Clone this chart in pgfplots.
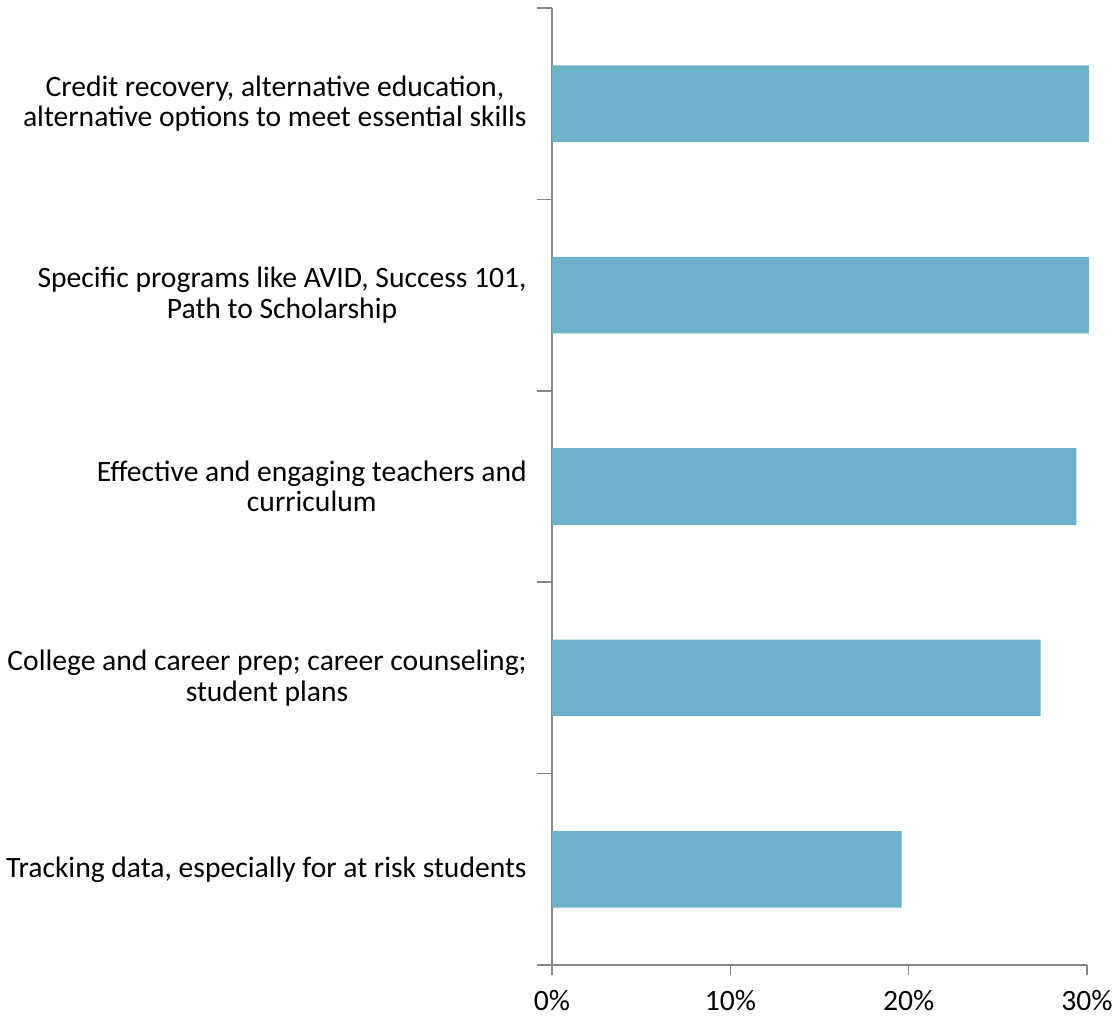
\documentclass[border=0pt]{standalone}
\usepackage{fontspec}
\setmainfont{Carlito}
\usepackage{pgfplots}
\pgfplotsset{compat=1.18}
\usetikzlibrary{calc}
\definecolor{barblue}{HTML}{6BB1C9}
\definecolor{axisgray}{HTML}{868686}

\begin{document}
\begin{tikzpicture}[x=1pt,y=1pt]
  \begin{axis}[
    name=ax,
    at={(0,0)}, anchor=south west,
    scale only axis,
    width=267.5pt, height=478.5pt,
    xbar, bar width=0.4,
    xmin=0, xmax=30,
    ymin=-0.5, ymax=4.5,
    xtick={0,10,20,30},
    xticklabel={\pgfmathprintnumber{\tick}\%},
    ytick={0,1,2,3,4},
    yticklabels={
      {Tracking data, especially for at risk students},
      {College and career prep; career counseling;\\student plans},
      {Effective and engaging teachers and\\curriculum},
      {Specific programs like AVID, Success 101,\\Path to Scholarship},
      {Credit recovery, alternative education,\\alternative options to meet essential skills}},
    minor ytick={-0.5,0.5,1.5,2.5,3.5,4.5},
    major y tick style={draw=none},
    minor tick length=7.5pt,
    major tick length=5pt,
    tick align=outside,
    axis lines*=left,
    axis line style={draw=axisgray, line width=0.8pt},
    every tick/.style={draw=axisgray, line width=0.8pt},
    xtick pos=bottom, ytick pos=left,
    /pgf/number format/assume math mode=true,
    tick label style={font=\fontsize{14.8}{15.3}\selectfont, text=black},
    yticklabel style={align=center, inner sep=0pt, xshift=-7.5pt},
    xticklabel style={inner sep=0pt, yshift=-7.5pt},
    clip=false,
  ]
  \addplot[fill=barblue, draw=none] coordinates {
    (19.6,0) (27.4,1) (29.4,2) (30.1,3) (30.1,4)};
  \end{axis}
  \pgfresetboundingbox
  \path ($(ax.south west)+(-276pt,-27pt)$) rectangle ($(ax.north east)+(14.5pt,4pt)$);
\end{tikzpicture}
\end{document}
